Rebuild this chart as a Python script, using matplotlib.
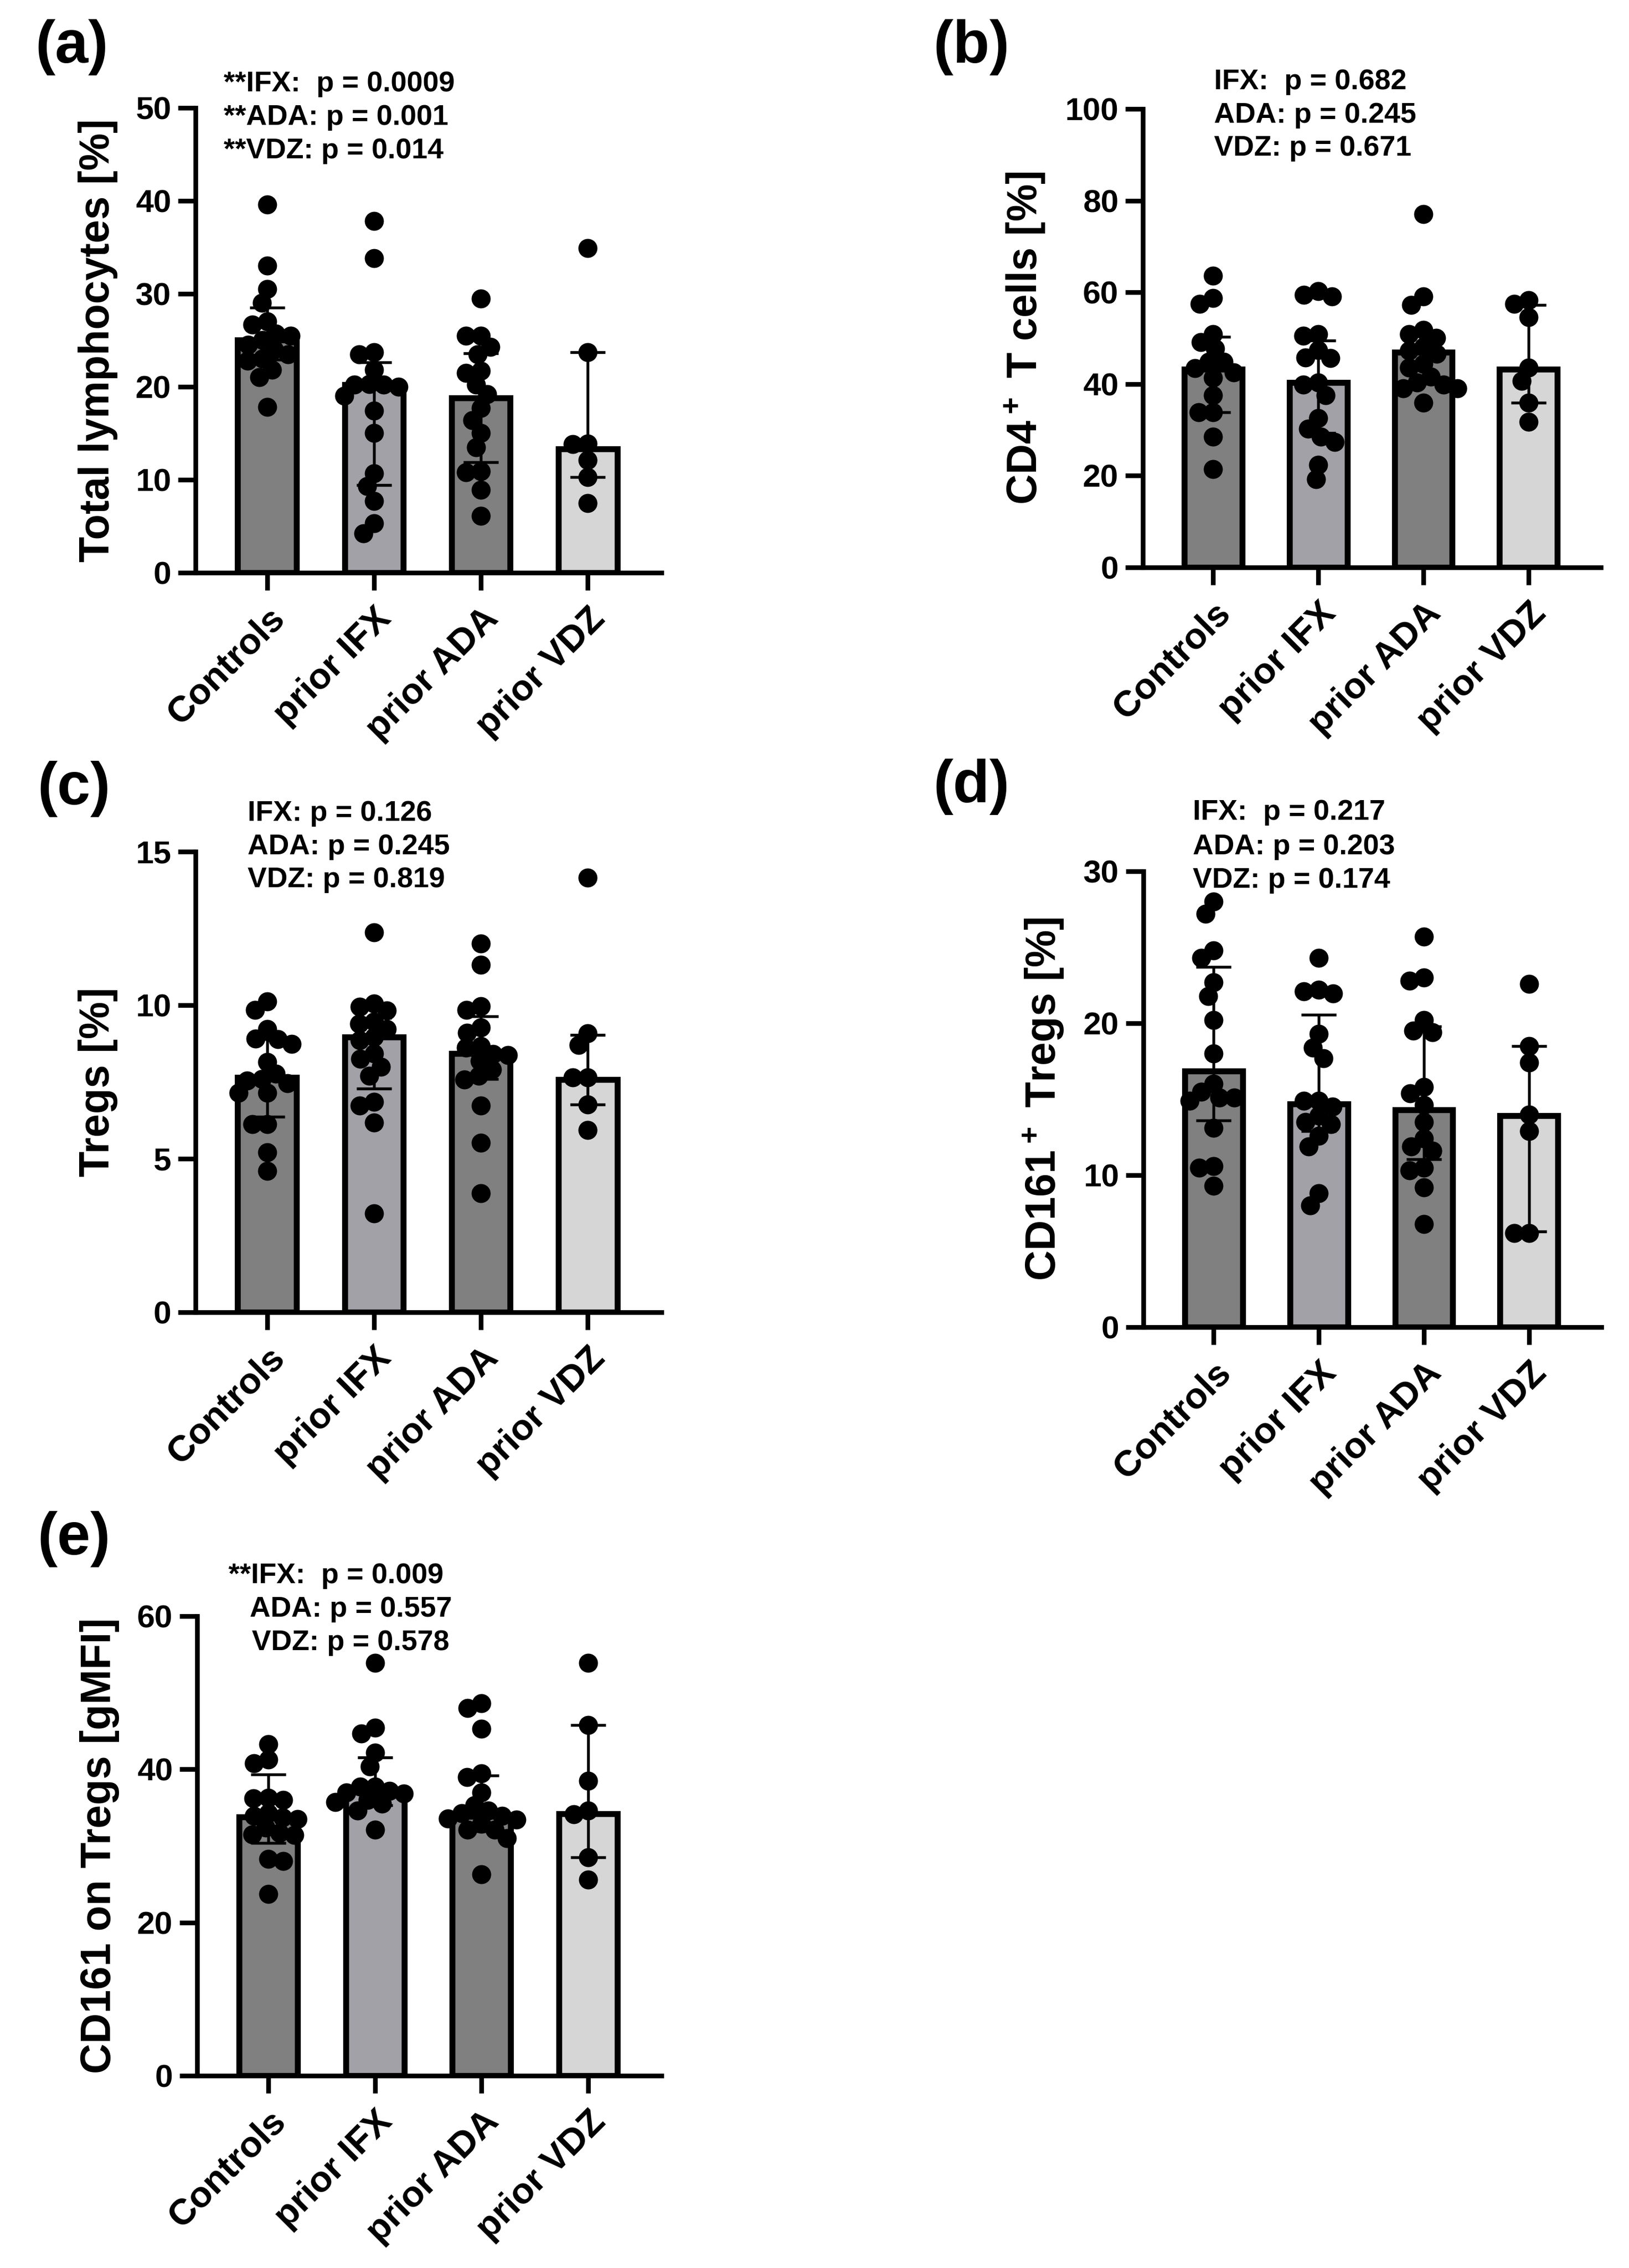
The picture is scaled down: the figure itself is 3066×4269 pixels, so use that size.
import numpy as np
import matplotlib
matplotlib.use("Agg")
import matplotlib.pyplot as plt

W, H = 3066, 4269

groups = ["Controls", "prior IFX", "prior ADA", "prior VDZ"]
bar_colors = ["#808080", "#a1a1a7", "#808080", "#d6d6d6"]

# (a) total lymphocytes [%]
lymph_ctrl = [39.6, 33.0, 30.5, 29.0, 27.0, 26.7, 25.7, 25.5, 25.0, 24.5, 24.0, 23.5, 23.0, 22.8, 21.8, 21.0, 17.8]
lymph_ifx = [37.8, 33.8, 23.7, 23.5, 21.8, 20.3, 20.2, 20.2, 20.0, 19.0, 17.4, 15.0, 10.7, 9.3, 7.7, 5.3, 4.2]
lymph_ada = [29.5, 25.5, 25.5, 24.3, 23.5, 21.7, 21.5, 20.2, 19.2, 17.7, 16.4, 15.0, 13.5, 10.9, 10.8, 8.9, 6.1]
lymph_vdz = [34.9, 23.7, 13.9, 13.8, 12.1, 10.3, 7.5]
lymph_med = [25.0, 20.2, 18.8, 13.3]
lymph_q1 = [22.9, 9.4, 11.9, 10.3]
lymph_q3 = [28.5, 22.6, 23.6, 23.7]

# (b) CD4+ T cells [%]
cd4_ctrl = [63.6, 58.7, 57.5, 50.9, 49.1, 47.7, 44.8, 44.8, 43.5, 42.5, 41.4, 37.5, 33.8, 33.8, 28.5, 21.4]
cd4_ifx = [60.3, 59.5, 59.1, 50.9, 50.5, 47.4, 45.8, 45.6, 40.3, 39.9, 37.5, 32.6, 30.2, 28.5, 27.3, 22.4, 19.2]
cd4_ada = [77.0, 59.1, 57.2, 51.8, 50.9, 50.1, 48.1, 47.3, 46.6, 44.4, 43.6, 41.6, 40.3, 39.9, 39.1, 39.0, 35.9]
cd4_vdz = [58.3, 57.5, 54.6, 43.6, 40.7, 35.9, 31.8]
cd4_med = [43.2, 40.3, 46.9, 43.2]
cd4_q1 = [33.8, 29.3, 40.5, 35.9]
cd4_q3 = [50.3, 49.5, 51.1, 57.3]

# (c) Tregs [%]
treg_ctrl = [10.12, 9.85, 9.22, 8.91, 8.89, 8.73, 8.15, 7.76, 7.6, 7.54, 7.46, 7.15, 7.15, 6.12, 6.12, 5.21, 4.61]
treg_ifx = [12.37, 10.06, 9.94, 9.82, 9.46, 9.40, 9.22, 8.97, 8.85, 8.43, 8.25, 8.0, 7.70, 6.85, 6.73, 6.18, 3.21]
treg_ada = [12.0, 11.31, 9.97, 9.85, 9.28, 9.1, 8.67, 8.61, 8.4, 8.37, 8.18, 7.9, 7.7, 7.58, 6.73, 5.52, 3.88]
treg_vdz = [14.16, 9.09, 8.71, 7.64, 7.64, 6.77, 5.94]
treg_med = [7.64, 8.97, 8.43, 7.58]
treg_q1 = [6.37, 7.28, 7.6, 6.77]
treg_q3 = [8.89, 9.58, 9.64, 9.03]

# (d) CD161+ Tregs [%]
cd161_ctrl = [28.0, 27.2, 24.8, 24.3, 22.7, 21.8, 20.2, 18.0, 16.0, 15.5, 15.1, 15.1, 14.9, 13.1, 10.6, 10.5, 9.3]
cd161_ifx = [24.3, 22.2, 22.1, 21.95, 19.3, 18.4, 17.7, 14.9, 14.9, 14.5, 13.9, 13.5, 13.35, 12.6, 11.9, 8.8, 8.0]
cd161_ada = [25.7, 23.0, 22.8, 20.2, 19.5, 19.4, 15.8, 15.4, 14.6, 13.5, 12.4, 11.9, 11.6, 10.5, 10.3, 9.2, 6.8]
cd161_vdz = [22.6, 18.5, 17.4, 14.0, 12.9, 6.2, 6.2]
cd161_med = [16.85, 14.7, 14.3, 13.9]
cd161_q1 = [13.6, 12.9, 11.05, 6.3]
cd161_q3 = [23.7, 20.55, 19.8, 18.5]

# (e) CD161 on Tregs [gMFI]
mfi_ctrl = [43.3, 41.3, 40.8, 36.3, 36.2, 36.0, 34.3, 33.9, 33.7, 33.5, 32.4, 31.7, 31.5, 31.4, 28.3, 28.0, 23.7]
mfi_ifx = [53.9, 45.4, 44.7, 42.2, 40.4, 37.7, 37.7, 37.2, 37.0, 36.8, 36.0, 35.7, 35.5, 34.6, 32.1]
mfi_ada = [48.6, 48.0, 45.3, 39.5, 39.0, 37.0, 35.3, 34.6, 34.3, 33.9, 33.6, 33.4, 32.9, 32.1, 32.1, 31.0, 26.3]
mfi_vdz = [53.9, 45.8, 38.5, 34.6, 34.1, 28.5, 25.6]
mfi_med = [33.75, 37.2, 33.85, 34.2]
mfi_q1 = [30.4, 35.3, 31.9, 28.5]
mfi_q3 = [39.3, 41.55, 39.2, 45.8]

plt.rcParams['font.family'] = ['Liberation Sans', 'DejaVu Sans']
plt.rcParams['font.weight'] = 'bold'
plt.rcParams['axes.labelweight'] = 'bold'
plt.rcParams['mathtext.fontset'] = 'custom'
plt.rcParams['mathtext.rm'] = 'Liberation Sans:bold'
plt.rcParams['mathtext.bf'] = 'Liberation Sans:bold'
plt.rcParams['mathtext.default'] = 'rm'

fig = plt.figure(figsize=(W / 300, H / 300), dpi=300)


def px_axes(left, right, y0, ytop):
    # axes box given in pixels of the output picture
    return fig.add_axes([left / W, 1 - y0 / H, (right - left) / W, (y0 - ytop) / H])


def swarm(ax, xc, vals, diam=34.0):
    # beeswarm in pixel space: each dot goes as close to the centre as it can
    tr = ax.transData
    x0 = tr.transform((xc, 0))[0]
    mind = 0.82 * diam
    placed = []
    for v in sorted(vals, reverse=True):
        py = tr.transform((xc, v))[1]
        cands = [x0]
        for qx, qy in placed:
            dy = abs(py - qy)
            if dy < mind:
                dx = np.sqrt(mind ** 2 - dy ** 2)
                cands += [qx + dx + 0.01, qx - dx - 0.01]
        cands.sort(key=lambda c: (abs(c - x0), c))
        for px in cands:
            if all((px - qx) ** 2 + (py - qy) ** 2 >= mind ** 2 - 1e-6 for qx, qy in placed):
                break
        placed.append((px, py))
    pts = tr.inverted().transform(np.array(placed))
    return pts[:, 0], pts[:, 1]


def panel(box, pts, med, q1, q3, ymax, yticks, ylabel):
    ax = px_axes(*box)
    x = np.arange(4)
    ax.set_xlim(-0.67, 3.69)
    ax.set_ylim(0, ymax)
    ax.bar(x, med, width=0.55, color=bar_colors, edgecolor='black', linewidth=2.7, zorder=2)
    med = np.array(med)
    ax.errorbar(x, med, yerr=[med - np.array(q1), np.array(q3) - med], fmt='none',
                ecolor='black', elinewidth=1.3, capsize=8, capthick=1.3, zorder=4)
    for i, vals in enumerate(pts):
        sx, sy = swarm(ax, i, vals)
        ax.scatter(sx, sy, s=8.6 ** 2, color='black', linewidths=0, zorder=3, clip_on=False)
    ax.spines['top'].set_visible(False)
    ax.spines['right'].set_visible(False)
    ax.spines['left'].set_linewidth(2.1)
    ax.spines['bottom'].set_linewidth(2.1)
    ax.set_yticks(yticks)
    ax.set_xticks(x)
    ax.set_xticklabels(groups, rotation=45, ha='right', rotation_mode='anchor', fontsize=16.5)
    ax.tick_params(axis='both', length=8, width=2.1, pad=3)
    ax.tick_params(axis='y', labelsize=14.5)
    ax.tick_params(axis='x', pad=5)
    ax.set_ylabel(ylabel, fontsize=19, labelpad=8)
    return ax


def ftext(x, y, s, size=13, va='baseline'):
    fig.text(x / W, 1 - y / H, s, fontsize=size, fontweight='bold', va=va, ha='left')


panel((368, 1245, 1078, 203), [lymph_ctrl, lymph_ifx, lymph_ada, lymph_vdz],
      lymph_med, lymph_q1, lymph_q3, 50, [0, 10, 20, 30, 40, 50], "Total lymphocytes [%]")
panel((2151, 3013, 1068, 205), [cd4_ctrl, cd4_ifx, cd4_ada, cd4_vdz],
      cd4_med, cd4_q1, cd4_q3, 100, [0, 20, 40, 60, 80, 100], "CD4$^+$ T cells [%]")
panel((368, 1245, 2470, 1603), [treg_ctrl, treg_ifx, treg_ada, treg_vdz],
      treg_med, treg_q1, treg_q3, 15, [0, 5, 10, 15], "Tregs [%]")
panel((2152, 3014, 2498, 1640), [cd161_ctrl, cd161_ifx, cd161_ada, cd161_vdz],
      cd161_med, cd161_q1, cd161_q3, 30, [0, 10, 20, 30], "CD161$^+$ Tregs [%]")
panel((371, 1245, 3907, 3042), [mfi_ctrl, mfi_ifx, mfi_ada, mfi_vdz],
      mfi_med, mfi_q1, mfi_q3, 60, [0, 20, 40, 60], "CD161 on Tregs [gMFI]")

# panel letters
for lab, x, y in [("(a)", 66, 36), ("(b)", 1756, 36), ("(c)", 70, 1432),
                  ("(d)", 1756, 1428), ("(e)", 70, 2844)]:
    ftext(x, y, lab, size=27, va='top')

# p-value annotations
for x, y, s in [(421, 172, "**IFX:  p = 0.0009"), (421, 235, "**ADA: p = 0.001"), (421, 298, "**VDZ: p = 0.014"),
                (2285, 168, "IFX:  p = 0.682"), (2285, 231, "ADA: p = 0.245"), (2285, 293, "VDZ: p = 0.671"),
                (466, 1545, "IFX: p = 0.126"), (466, 1608, "ADA: p = 0.245"), (466, 1670, "VDZ: p = 0.819"),
                (2245, 1543, "IFX:  p = 0.217"), (2245, 1608, "ADA: p = 0.203"), (2245, 1671, "VDZ: p = 0.174"),
                (430, 2980, "**IFX:  p = 0.009"), (470, 3043, "ADA: p = 0.557"), (474, 3106, "VDZ: p = 0.578")]:
    ftext(x, y, s)

fig.savefig("out.png", dpi=300, facecolor='white')
